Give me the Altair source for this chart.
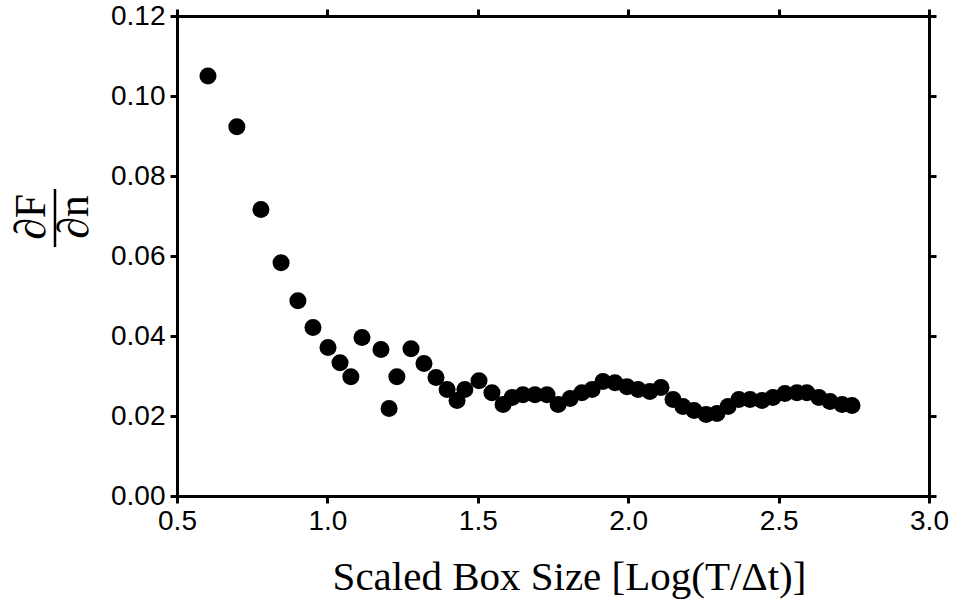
import altair as alt
import pandas as pd

# Scaled box size, log10(T/dt)
box_size = [0.603, 0.699, 0.779, 0.846, 0.902, 0.952, 1.002, 1.042, 1.078, 1.115,
            1.178, 1.205, 1.231, 1.278, 1.321, 1.361, 1.398, 1.431, 1.457, 1.504,
            1.547, 1.584, 1.614, 1.650, 1.690, 1.730, 1.767, 1.807, 1.846, 1.880,
            1.916, 1.956, 1.996, 2.033, 2.072, 2.109, 2.149, 2.182, 2.219, 2.259,
            2.295, 2.332, 2.368, 2.405, 2.445, 2.481, 2.521, 2.561, 2.594, 2.634,
            2.671, 2.711, 2.744]
# dF/dn
dfdn = [0.1050, 0.0923, 0.0716, 0.0583, 0.0488, 0.0421, 0.0371, 0.0333, 0.0298, 0.0396,
        0.0366, 0.0219, 0.0298, 0.0368, 0.0331, 0.0296, 0.0266, 0.0239, 0.0266, 0.0288,
        0.0258, 0.0229, 0.0246, 0.0253, 0.0253, 0.0253, 0.0229, 0.0244, 0.0258, 0.0266,
        0.0286, 0.0283, 0.0273, 0.0266, 0.0261, 0.0271, 0.0241, 0.0224, 0.0214, 0.0204,
        0.0206, 0.0224, 0.0241, 0.0241, 0.0239, 0.0246, 0.0256, 0.0258, 0.0258, 0.0246,
        0.0236, 0.0229, 0.0226]

x_ticks = [0.5, 1.0, 1.5, 2.0, 2.5, 3.0]
y_ticks = [0.00, 0.02, 0.04, 0.06, 0.08, 0.10, 0.12]
x_title = "Scaled Box Size [Log(T/\u0394t)]"
frac_num = "\u2202F"
frac_den = "\u2202n"

df = pd.DataFrame({"x": box_size, "y": dfdn})

W, H = 752, 480
xs = alt.Scale(domain=[0.5, 3.0], nice=False, zero=False)
ys = alt.Scale(domain=[0.0, 0.12], nice=False, zero=False)

base_axis = dict(domainColor="black", domainWidth=3, tickColor="black", tickWidth=3,
                 tickSize=7, grid=False, labelFont="Liberation Sans", labelFontSize=28,
                 labelColor="black", labelFlush=False, labelOverlap=False)

points = alt.Chart(df).mark_circle(size=290, color="black", opacity=1).encode(
    x=alt.X("x:Q", scale=xs,
            axis=alt.Axis(orient="bottom", values=x_ticks, format=".1f", labelPadding=4,
                          title=x_title, titleFont="Liberation Serif", titleFontSize=41,
                          titleFontWeight="normal", titleColor="black", titlePadding=22,
                          titleX=392, **base_axis)),
    y=alt.Y("y:Q", scale=ys,
            axis=alt.Axis(orient="left", values=y_ticks, format=".2f", labelPadding=5,
                          title=None, **base_axis)),
)

frame = alt.Chart(df).mark_circle(opacity=0).encode(
    x=alt.X("x:Q", scale=xs,
            axis=alt.Axis(orient="top", values=x_ticks, labels=False, title=None, **base_axis)),
    y=alt.Y("y:Q", scale=ys,
            axis=alt.Axis(orient="right", values=y_ticks, labels=False, title=None, **base_axis)),
)

lab = pd.DataFrame({"t": [frac_num, frac_den], "px": [-132, -89], "py": [201, 201]})
frac_text = alt.Chart(lab).mark_text(angle=270, align="center", baseline="alphabetic",
                                     font="Liberation Serif", fontSize=44, color="black").encode(
    text="t:N", x=alt.X("px:Q", scale=None), y=alt.Y("py:Q", scale=None))

bar = alt.Chart(pd.DataFrame({"a": [0]})).mark_rule(color="black", strokeWidth=2.5).encode(
    x=alt.value(-122), y=alt.value(173), y2=alt.value(231))

chart = alt.layer(points, frame, frac_text, bar).resolve_axis(
    x="independent", y="independent"
).properties(
    width=W, height=H,
    autosize=alt.AutoSizeParams(type="none"),
    padding={"left": 177, "top": 16, "right": 28, "bottom": 111},
).configure_view(stroke=None)

chart.save("out.html", embed_options={"renderer": "svg", "actions": False})
